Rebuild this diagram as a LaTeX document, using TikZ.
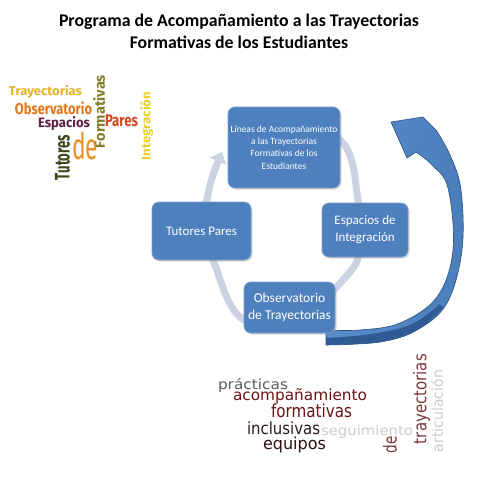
\documentclass[tikz,border=0pt]{standalone}
\usepackage{fontspec}
\setmainfont{Carlito}
\newfontfamily\wcA{Fira Sans}
\newfontfamily\wcB{DejaVu Sans}
\usetikzlibrary{arrows.meta,shadows}
\definecolor{boxblue}{HTML}{4E80BD}
\definecolor{boxedge}{HTML}{7A9FD0}
\definecolor{ringgray}{HTML}{CBD3E3}
\definecolor{arrowblue}{HTML}{4A7EBB}
\definecolor{arrowlight}{HTML}{5A8DCB}
\definecolor{arrowdark}{HTML}{2F5A93}
\definecolor{arrowedge}{HTML}{2B4F80}
\definecolor{cGold}{HTML}{E3B422}
\definecolor{cOrange}{HTML}{E0751E}
\definecolor{cPlum}{HTML}{5C1F45}
\definecolor{cOlive}{HTML}{857F2C}
\definecolor{cRed}{HTML}{D04A1E}
\definecolor{cYellow}{HTML}{E8D030}
\definecolor{cDkGreen}{HTML}{3B4A1E}
\definecolor{cDeOr}{HTML}{E8901E}
\definecolor{cGray}{HTML}{5A5A5A}
\definecolor{cMaroon}{HTML}{6E1414}
\definecolor{cBlack}{HTML}{2A1A1A}
\definecolor{cLight}{HTML}{CCCCCC}
\definecolor{cDkMaroon}{HTML}{2E1010}
\definecolor{cBrown}{HTML}{7A3A3A}
\tikzset{
  box/.style={rectangle, rounded corners=7pt, fill=boxblue, draw=boxedge, line width=0.8pt,
    text=white, align=center, inner sep=1pt,
    drop shadow={shadow xshift=1.5pt, shadow yshift=-1.5pt, opacity=0.3}},
  wc/.style={inner sep=0pt, outer sep=0pt, anchor=north west},
  ringline/.style={draw=ringgray, line width=7pt},
  bigarrow/.style={left color=arrowlight, right color=arrowblue, draw=arrowedge, line width=0.6pt, line join=round},
}
\begin{document}
\begin{tikzpicture}[x=1pt,y=-1pt]
\useasboundingbox (0,0) rectangle (480,480);
\fill[white] (0,0) rectangle (480,480);

% title
\node[font=\bfseries\fontsize{17.8}{22}\selectfont, align=center] (title) at (239,31)
  {Programa de Acompañamiento a las Trayectorias\\Formativas de los Estudiantes};

% top-left word cloud
\node[wc,text=cGold] (wTray) at (9,85) {\resizebox*{73pt}{13pt}{\wcA\bfseries Trayectorias}};
\node[wc,text=cOrange] (wObs) at (15,102) {\resizebox*{77pt}{13pt}{\wcA\bfseries Observatorio}};
\node[wc,text=cPlum] (wEsp) at (38,117) {\resizebox*{52pt}{14pt}{\wcA\bfseries Espacios}};
\node[wc,text=cOlive] (wForm) at (93,75) {\rotatebox{90}{\resizebox*{73pt}{12pt}{\wcA\bfseries Formativas}}};
\node[wc,text=cRed] (wPar) at (105,115) {\resizebox*{33pt}{12pt}{\wcA\bfseries Pares}};
\node[wc,text=cYellow] (wInt) at (140,92) {\rotatebox{90}{\resizebox*{68pt}{13pt}{\wcA\bfseries Integración}}};
\node[wc,text=cDkGreen] (wTut) at (55,135) {\rotatebox{90}{\resizebox*{45pt}{15pt}{\wcA\bfseries Tutores}}};
\node[wc,text=cDeOr] (wDe) at (72,132) {\resizebox*{26pt}{28pt}{\wcA de}};

% bottom word cloud
\node[wc,text=cGray] (bPra) at (218,378) {\resizebox*{70pt}{14pt}{\wcB prácticas}};
\node[wc,text=cMaroon] (bAco) at (233,389) {\resizebox*{134pt}{15pt}{\wcB acompañamiento}};
\node[wc,text=cMaroon] (bFor) at (271,404) {\resizebox*{81pt}{14pt}{\wcB formativas}};
\node[wc,text=cBlack] (bInc) at (247,422) {\resizebox*{73pt}{13pt}{\wcB inclusivas}};
\node[wc,text=cLight] (bSeg) at (321,425) {\resizebox*{92pt}{13pt}{\wcB seguimiento}};
\node[wc,text=cDkMaroon] (bEqu) at (263,437) {\resizebox*{63pt}{16pt}{\wcB equipos}};
\node[wc,text=cBrown] (bDe) at (383,436) {\rotatebox{90}{\resizebox*{17pt}{14pt}{\wcB de}}};
\node[wc,text=cBrown] (bTra) at (413,354) {\rotatebox{90}{\resizebox*{90pt}{17pt}{\wcB trayectorias}}};
\node[wc,text=cLight] (bArt) at (431,370) {\rotatebox{90}{\resizebox*{82pt}{12pt}{\wcB articulación}}};

% ring (cycle)
\draw[ringline, -{Triangle[width=17pt,length=10pt]}]
  plot[smooth, tension=0.6] coordinates {(240,125)(284,115)(343,143)(358,200)(360,240)(350,272)(290,325)(240,317)(215,265)(205,225)(210,185)(222,152)};

% big curved arrow
\shadedraw[bigarrow]
  plot[smooth, tension=0.6] coordinates {(326,345)(380,342)(417,330)(447,303)(462,250)(461,190)(450,155)(436,130)}
  -- (423,117) -- (391,122) -- (407,158)
  -- plot[smooth, tension=0.6] coordinates {(416,152)(432,165)(448,188)(453,250)(437,297)(400,323)(360,330)(326,330)}
  -- cycle;
\fill[arrowdark]
  plot[smooth, tension=0.6] coordinates {(326,345)(380,342)(417,330)(443,308)}
  -- plot[smooth, tension=0.6] coordinates {(440,304)(412,324)(372,334)(326,338)}
  -- cycle;

% boxes
\node[box, minimum width=112pt, minimum height=81pt, font=\fontsize{9.5}{12.3}\selectfont] (top) at (284,147.5)
  {Líneas de Acompañamiento\\a las Trayectorias\\Formativas de los\\Estudiantes};
\node[box, minimum width=99pt, minimum height=58pt, font=\fontsize{13}{17}\selectfont] (tut) at (201.5,231)
  {Tutores Pares};
\node[box, minimum width=86pt, minimum height=54pt, font=\fontsize{13}{17}\selectfont] (esp) at (365,230)
  {Espacios de\\Integración};
\node[box, minimum width=91pt, minimum height=51pt, font=\fontsize{13.5}{17}\selectfont] (obs) at (289.5,307.5)
  {Observatorio\\de Trayectorias};
\end{tikzpicture}
\end{document}
